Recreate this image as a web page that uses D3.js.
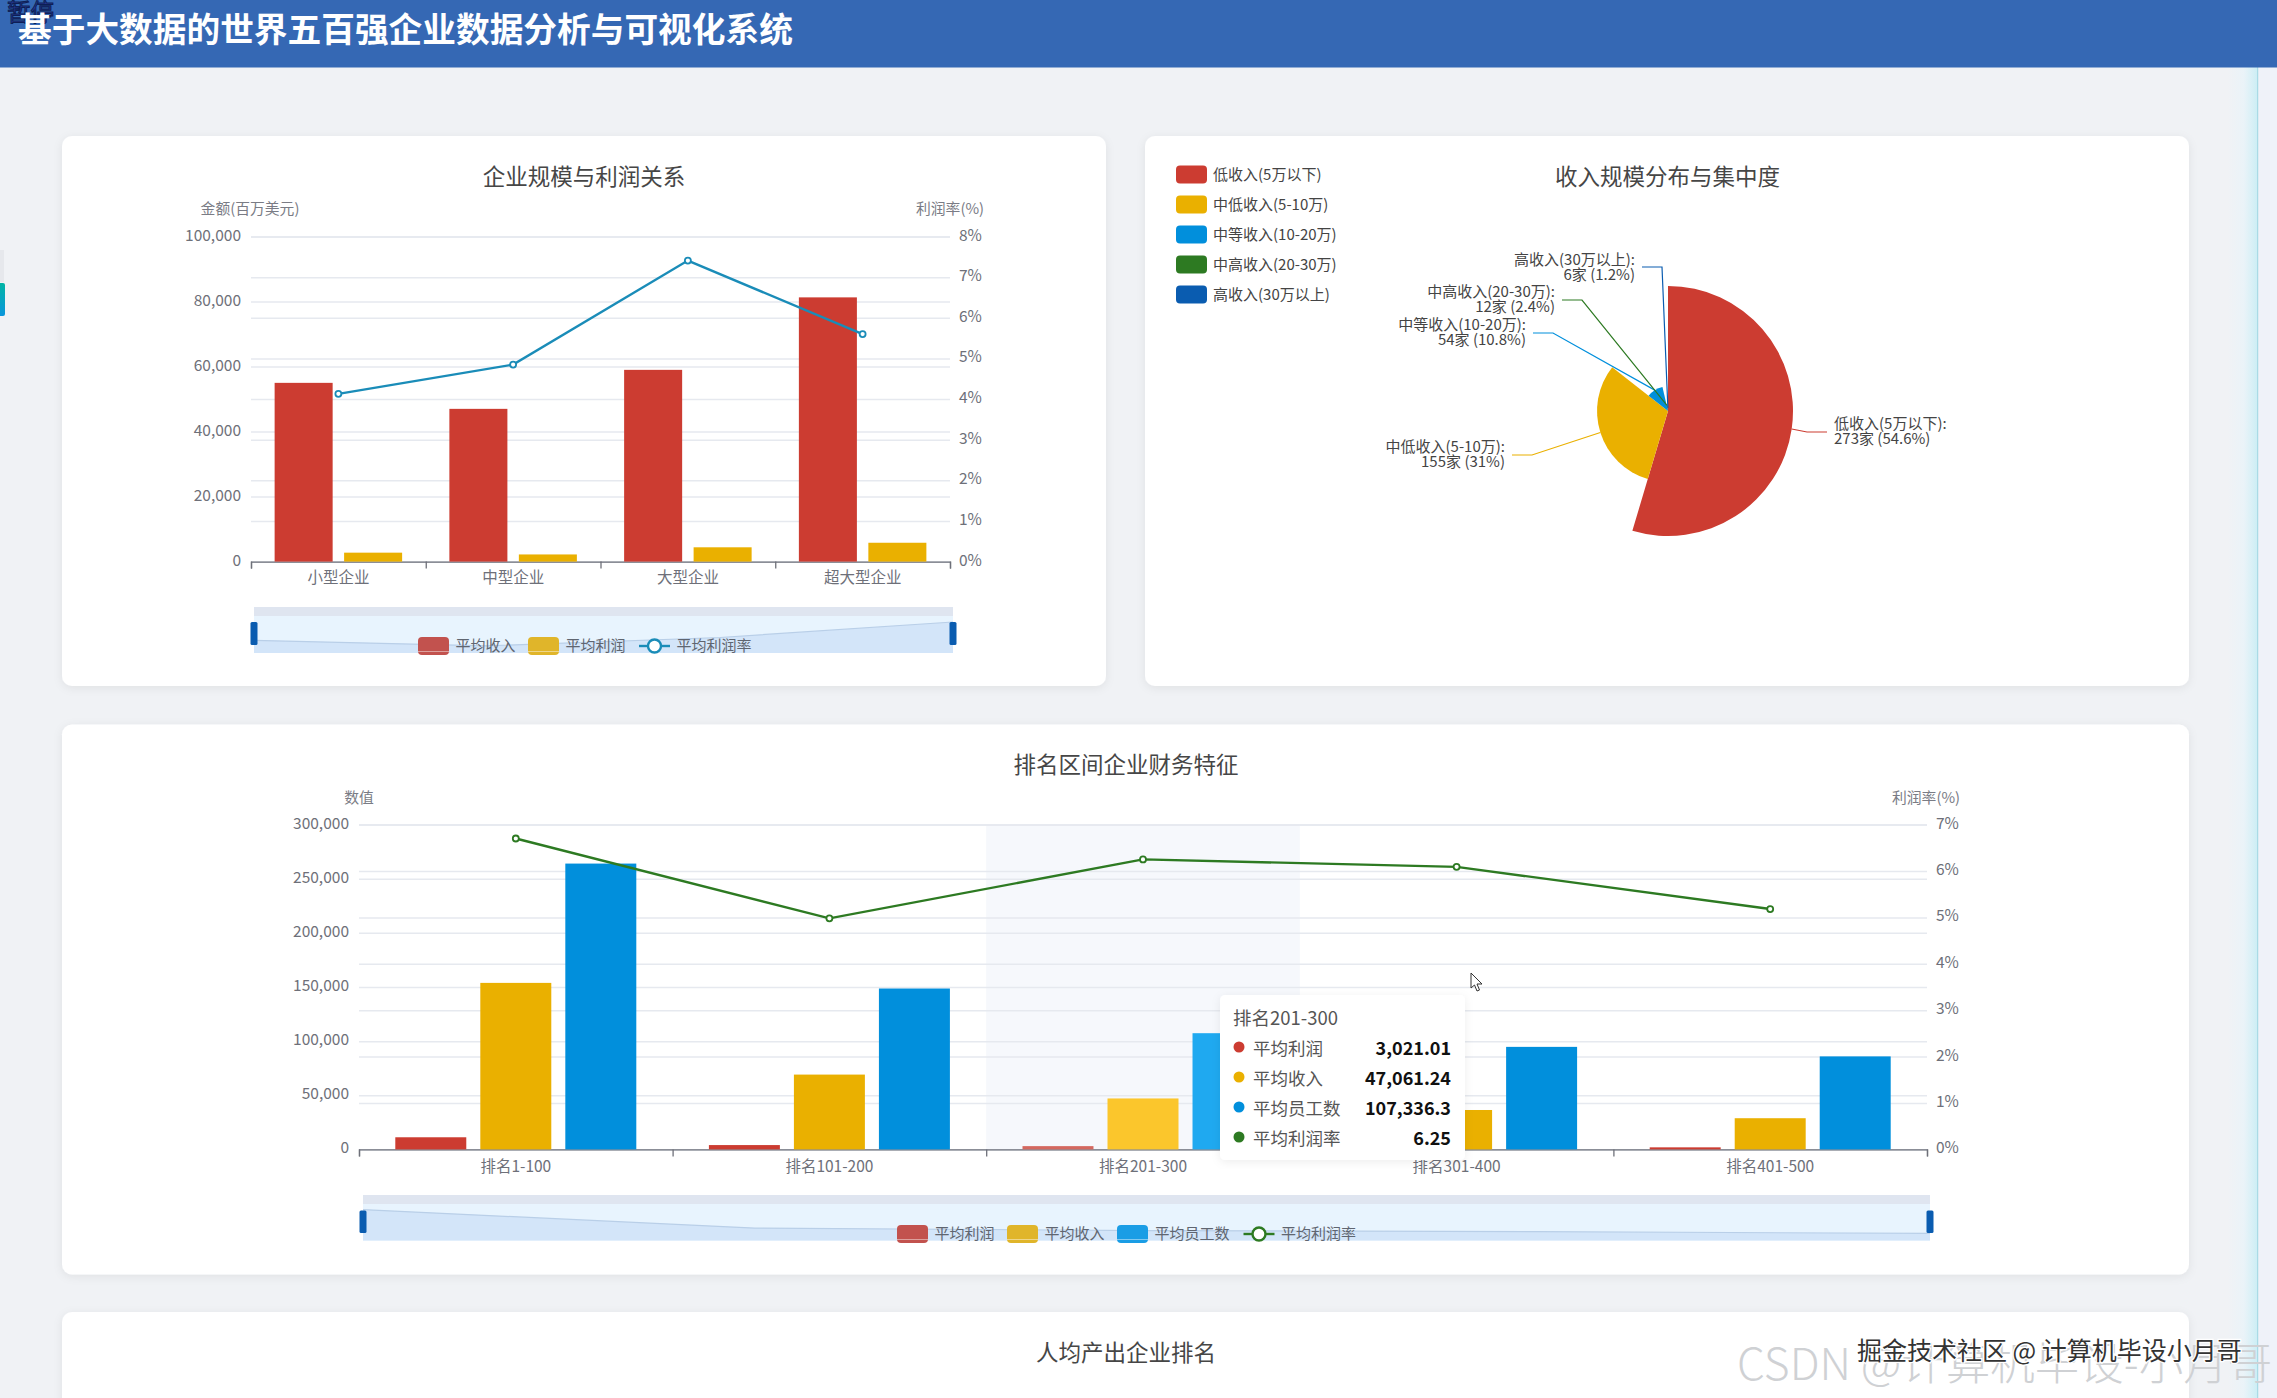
<!DOCTYPE html>
<html><head><meta charset="utf-8">
<script src="https://cdnjs.cloudflare.com/ajax/libs/d3/7.8.5/d3.min.js"></script>
<style>
html,body{margin:0;padding:0;background:#f0f2f5;overflow:hidden}
text{font-family:"Noto Sans CJK SC","Noto Sans",sans-serif}
</style></head><body><svg id="c" width="2277" height="1398"></svg>
<script>
// ---- data ----
const sizeCategories = ["小型企业","中型企业","大型企业","超大型企业"];
const sizeRevenue = [55000, 47000, 59000, 81300];
const sizeProfit = [2750, 2200, 4400, 5800];
const sizeMargin = [4.13, 4.85, 7.41, 5.60];

const incomeBuckets = ["低收入(5万以下)","中低收入(5-10万)","中等收入(10-20万)","中高收入(20-30万)","高收入(30万以上)"];
const incomeCounts = [273, 155, 54, 12, 6];

const rankCategories = ["排名1-100","排名101-200","排名201-300","排名301-400","排名401-500"];
const rankProfit = [11200, 4000, 3021.01, 2600, 1900];
const rankRevenue = [153800, 69100, 47061.24, 36400, 28800];
const rankStaff = [264000, 148600, 107336.3, 94700, 85900];
const rankMargin = [6.70, 4.98, 6.25, 6.09, 5.18];

const leftTicks1 = [0,20000,40000,60000,80000,100000];
const rightTicks1 = [0,1,2,3,4,5,6,7,8];
const leftTicks3 = [0,50000,100000,150000,200000,250000,300000];
const rightTicks3 = [0,1,2,3,4,5,6,7];

// ---- styling / layout ----
const RED="#cc3c31", YEL="#eab000", BLU="#018fdc", GRN="#2d7a22", DBL="#0a5cb0", TEAL="#1a8cb8";
const pieColors=[RED,YEL,BLU,GRN,DBL];
const TXT="#6e7079";
const svg=d3.select("#c");
const defs=svg.append("defs");
const sh=defs.append("filter").attr("id","sh").attr("x","-5%").attr("y","-5%").attr("width","110%").attr("height","110%");
sh.append("feDropShadow").attr("dx",0).attr("dy",2).attr("stdDeviation",5).attr("flood-color","#000").attr("flood-opacity",0.07);
const teal=defs.append("linearGradient").attr("id","teal").attr("x1",0).attr("x2",0).attr("y1",0).attr("y2",1);
teal.append("stop").attr("offset",0).attr("stop-color","#00b5a5");
teal.append("stop").attr("offset",1).attr("stop-color","#0a96dc");
const strip=defs.append("linearGradient").attr("id","strip");
strip.append("stop").attr("offset",0).attr("stop-color","#f0f2f5");
strip.append("stop").attr("offset",0.55).attr("stop-color","#eaf3f8");
strip.append("stop").attr("offset",1).attr("stop-color","#cdeef5");

function T(g,x,y,s,o={}){
  return g.append("text").attr("x",x).attr("y",y).attr("dominant-baseline","central")
    .attr("text-anchor",o.a||"start").attr("font-size",o.s||15).attr("fill",o.c||TXT)
    .attr("font-weight",o.w||400).text(s);
}
// page furniture
svg.append("rect").attr("x",2228).attr("y",67).attr("width",29).attr("height",1331).attr("fill","url(#strip)");
svg.append("rect").attr("x",2257).attr("y",67).attr("width",1.5).attr("height",1331).attr("fill","#a9dbe6");
svg.append("rect").attr("x",2258.5).attr("y",67).attr("width",19).attr("height",1331).attr("fill","#eff2f9");
svg.append("rect").attr("x",0).attr("y",0).attr("width",2277).attr("height",67.5).attr("fill","#3568b4");
svg.append("rect").attr("x",0).attr("y",250).attr("width",4).attr("height",32).attr("fill","#e6e8ec");
svg.append("rect").attr("x",-3).attr("y",283).attr("width",8).attr("height",33).attr("rx",2).attr("fill","url(#teal)");
T(svg,7,11,"暂停",{s:23.5,c:"#2a3a9a"}).attr("stroke","#0d1f55").attr("stroke-width",1);
T(svg,18,27,"基于大数据的世界五百强企业数据分析与可视化系统",{s:33.7,c:"#fff",w:700});

function card(x,y,w,h){svg.append("rect").attr("x",x).attr("y",y).attr("width",w).attr("height",h).attr("rx",10).attr("fill","#fff").attr("filter","url(#sh)");}
card(62,136,1044,550); card(1145,136,1044,550); card(62,724.5,2127,550); card(62,1312,2127,120);
T(svg,584,174.5,"企业规模与利润关系",{s:22.5,a:"middle",c:"#464646"});
T(svg,1667.5,174.5,"收入规模分布与集中度",{s:22.5,a:"middle",c:"#464646"});
T(svg,1126,763,"排名区间企业财务特征",{s:22.5,a:"middle",c:"#464646"});
T(svg,1126,1351,"人均产出企业排名",{s:22.5,a:"middle",c:"#464646"});

function frame(o){
  const g=svg.append("g");
  const x=d3.scaleBand().domain(o.cats).range([o.x0,o.x1]);
  const yL=d3.scaleLinear().domain([0,d3.max(o.lt)]).range([o.yb,o.yt]);
  const yR=d3.scaleLinear().domain([0,d3.max(o.rt)]).range([o.yb,o.yt]);
  if(o.hi!=null) g.append("rect").attr("x",x(o.cats[o.hi])).attr("y",o.yt).attr("width",x.bandwidth()).attr("height",o.yb-o.yt).attr("fill","#f6f8fc");
  const grid=(ax)=>ax.call(s=>s.select(".domain").remove())
     .call(s=>s.selectAll(".tick line").attr("stroke","#e6e9ef").attr("stroke-width",1.5))
     .call(s=>s.selectAll(".tick text").attr("fill",TXT).attr("font-size",15.5).attr("font-family",'"Noto Sans CJK SC"').attr("dy",".22em"));
  g.append("g").attr("transform",`translate(${o.x0},0)`).call(d3.axisLeft(yL).tickValues(o.lt).tickFormat(d3.format(",")).tickSize(-(o.x1-o.x0)).tickPadding(10)).call(grid);
  g.append("g").attr("transform",`translate(${o.x1},0)`).call(d3.axisRight(yR).tickValues(o.rt).tickFormat(d=>d+"%").tickSize(-(o.x1-o.x0)).tickPadding(10)).call(grid)
    .call(s=>s.selectAll(".tick text").attr("x",9));
  const n=o.cats.length;
  const tickX=d3.scaleLinear().domain([0,n]).range([o.x0,o.x1]);
  g.append("g").attr("transform",`translate(0,${o.yb})`).call(d3.axisBottom(tickX).tickValues(d3.range(n+1)).tickFormat("").tickSize(7))
    .call(s=>s.select(".domain").attr("stroke",TXT).attr("stroke-width",1.3))
    .call(s=>s.selectAll(".tick line").attr("stroke",TXT).attr("stroke-width",1.3));
  g.append("g").attr("transform",`translate(0,${o.yb})`).call(d3.axisBottom(x).tickSize(0).tickPadding(o.cp))
    .call(s=>s.select(".domain").remove())
    .call(s=>s.selectAll(".tick text").attr("fill",TXT).attr("font-size",15.5).attr("font-family",'"Noto Sans CJK SC"'));
  T(g,o.nameL,o.nameY,o.nameLText,{a:"middle",s:14.8,c:"#7a7c85"});
  T(g,o.nameR,o.nameY,"利润率(%)",{a:"middle",s:14.8,c:"#7a7c85"});
  // bars
  const inner=d3.scaleBand().domain(d3.range(o.series.length)).range([0,x.bandwidth()]).paddingInner(o.bp).paddingOuter(o.op);
  o.series.forEach((s,i)=>{
    g.selectAll(null).data(s.v).join("rect")
      .attr("x",(d,k)=>x(o.cats[k])+inner(i)).attr("width",inner.bandwidth())
      .attr("y",d=>yL(d)).attr("height",d=>o.yb-yL(d))
      .attr("fill",(d,k)=>k===o.hi?s.h:s.c);
  });
  // line
  const lx=(d,k)=>x(o.cats[k])+x.bandwidth()/2;
  g.append("path").datum(o.line).attr("fill","none").attr("stroke",o.lc).attr("stroke-width",2.4)
    .attr("d",d3.line().x(lx).y(d=>yR(d)));
  g.selectAll(null).data(o.line).join("circle").attr("cx",lx).attr("cy",d=>yR(d)).attr("r",3)
    .attr("fill","#fff").attr("stroke",o.lc).attr("stroke-width",1.8);
  // data zoom
  const z=o.z, zg=svg.append("g");
  zg.append("rect").attr("x",z.x0).attr("y",z.y0).attr("width",z.x1-z.x0).attr("height",z.y1-z.y0).attr("fill","#e8f4fe");
  zg.append("rect").attr("x",z.x0).attr("y",z.y0).attr("width",z.x1-z.x0).attr("height",z.bar).attr("fill","#dfe5f0");
  const ext=d3.extent(z.v), pad=(ext[1]-ext[0])*0.3;
  const zy=d3.scaleLinear().domain([ext[0]-pad,ext[1]]).range([z.y1,z.top]);
  const zx=d3.scalePoint().domain(d3.range(z.v.length)).range([z.x0,z.x1]);
  zg.append("path").datum(z.v).attr("fill","#d3e5f9").attr("d",d3.area().x((d,k)=>zx(k)).y0(z.y1).y1(d=>zy(d)));
  zg.append("path").datum(z.v).attr("fill","none").attr("stroke","#b9cfe8").attr("stroke-width",1.2).attr("d",d3.line().x((d,k)=>zx(k)).y(d=>zy(d)));
  [z.x0,z.x1].forEach(hx=>zg.append("rect").attr("x",hx-3.5).attr("y",z.hy0).attr("width",7).attr("height",z.hy1-z.hy0).attr("rx",1.5).attr("fill",DBL));
  // legend
  o.legend.forEach(l=>{
    const lg=svg.append("g");
    if(l.line){
      lg.append("line").attr("x1",l.x).attr("x2",l.x+31).attr("y1",o.ly).attr("y2",o.ly).attr("stroke",l.c).attr("stroke-width",2.4);
      lg.append("circle").attr("cx",l.x+15.5).attr("cy",o.ly).attr("r",6.5).attr("fill","#fff").attr("stroke",l.c).attr("stroke-width",2.4);
    }else{
      lg.append("rect").attr("x",l.x).attr("y",o.ly-9).attr("width",31).attr("height",18).attr("rx",4).attr("fill",l.c);
      lg.append("rect").attr("x",l.x).attr("y",o.ly+5).attr("width",31).attr("height",1).attr("fill","#fff").attr("opacity",.45);
    }
    T(lg,l.x+37.5,o.ly-2,l.t,{s:15,c:"#5f6570"});
  });
}

frame({cats:sizeCategories,x0:251,x1:950,yt:236.6,yb:561.6,lt:leftTicks1,rt:rightTicks1,cp:10,
  nameL:250,nameR:950,nameY:207,nameLText:"金额(百万美元)",
  series:[{v:sizeRevenue,c:RED},{v:sizeProfit,c:YEL}],bp:0.165,op:0.34,line:sizeMargin,lc:TEAL,
  z:{x0:254,x1:953,y0:607,y1:653,bar:9,top:622,hy0:622,hy1:645,v:sizeRevenue},ly:646,
  legend:[{x:418,t:"平均收入",c:"#c2524e"},{x:528,t:"平均利润",c:"#e0b52a"},{x:639,t:"平均利润率",c:TEAL,line:1}]});

frame({cats:rankCategories,x0:359,x1:1927,yt:824.6,yb:1149.4,lt:leftTicks3,rt:rightTicks3,hi:2,cp:11.5,
  nameL:359,nameR:1926,nameY:796,nameLText:"数值",
  series:[{v:rankProfit,c:RED,h:"#d4685f"},{v:rankRevenue,c:YEL,h:"#fbc62c"},{v:rankStaff,c:BLU,h:"#1fa9f0"}],bp:0.165,op:0.427,line:rankMargin,lc:GRN,
  z:{x0:363,x1:1930,y0:1195,y1:1240.6,bar:9,top:1209.6,hy0:1210.5,hy1:1233,v:rankProfit},ly:1234,
  legend:[{x:897,t:"平均利润",c:"#c2524e"},{x:1007,t:"平均收入",c:"#e0b52a"},{x:1117,t:"平均员工数",c:"#1a9de5"},{x:1243.5,t:"平均利润率",c:GRN,line:1}]});

// ---- pie ----
const pieCx=1668, pieCy=411;
const total=d3.sum(incomeCounts);
const pie=d3.pie().sort(null)(incomeCounts);
const rr=d3.scaleLinear().domain([0,d3.max(incomeCounts)]).range([0,125]);
const pg=svg.append("g").attr("transform",`translate(${pieCx},${pieCy})`);
const arc=d3.arc().innerRadius(0).outerRadius(d=>rr(d.value));
pg.selectAll("path").data(pie).join("path").attr("d",arc).attr("fill",(d,i)=>pieColors[i]);
// label elbows, as offsets from the pie centre
const labelElbows=[[139,21],[-136,44],[-115,-78],[-86,-111],[-6,-144]];
const labelTextY=[[11.9,26.4],[34,49],[-88,-73],[-121,-106],[-153,-138]];
pie.forEach((d,i)=>{
  const mid=(d.startAngle+d.endAngle)/2, r=rr(d.value);
  const sx=Math.sin(mid)*r, sy=-Math.cos(mid)*r;
  const [ex,ey]=labelElbows[i], dir=ex>0?1:-1;
  pg.append("path").attr("fill","none").attr("stroke",pieColors[i]).attr("stroke-width",1.2)
    .attr("d",d3.line()([[sx,sy],[ex,ey],[ex+dir*20,ey]]));
  const tx=ex+dir*27, a=dir>0?"start":"end";
  const pct=+(d.value/total*100).toFixed(1);
  T(pg,tx,labelTextY[i][0],incomeBuckets[i]+":",{s:15,a,c:"#444"});
  T(pg,tx,labelTextY[i][1],`${d.value}家 (${pct}%)`,{s:15,a,c:"#444"});
});
incomeBuckets.forEach((b,i)=>{
  const y=174.5+i*30;
  svg.append("rect").attr("x",1176).attr("y",y-9).attr("width",31).attr("height",18).attr("rx",4).attr("fill",pieColors[i]);
  T(svg,1213,y-1,b,{s:15,c:"#444"});
});

// ---- tooltip ----
const ti=2, tt=svg.append("g");
tt.append("rect").attr("x",1220).attr("y",995).attr("width",245).attr("height",165).attr("rx",5).attr("fill","#fff").attr("filter","url(#sh)");
T(tt,1233,1016.5,rankCategories[ti],{s:18.5,c:"#555"});
[["平均利润",rankProfit,RED],["平均收入",rankRevenue,YEL],["平均员工数",rankStaff,BLU],["平均利润率",rankMargin,GRN]].forEach((r,i)=>{
  const y=1047+i*30;
  tt.append("circle").attr("cx",1239).attr("cy",y).attr("r",5.5).attr("fill",r[2]);
  T(tt,1253,y,r[0],{s:17.5,c:"#555"});
  T(tt,1451,y,d3.format(",")(r[1][ti]),{s:18,c:"#111",w:700,a:"end"});
});
// mouse cursor
svg.append("path").attr("transform","translate(1471,973)")
  .attr("d","M0 0 L0 15 L3.5 12 L6 18 L8.5 17 L6 11 L11 11 Z").attr("fill","#fff").attr("stroke","#333").attr("stroke-width",1);

// ---- screen-recording watermarks ----
T(svg,1737,1360,"CSDN @计算机毕设-小月哥",{s:44.5,c:"#cfd1d4",w:300});
T(svg,1857,1349,"掘金技术社区 @ 计算机毕设小月哥",{s:25,c:"#333"}).attr("stroke","#fff").attr("stroke-width",2.5).attr("paint-order","stroke");
</script></body></html>
